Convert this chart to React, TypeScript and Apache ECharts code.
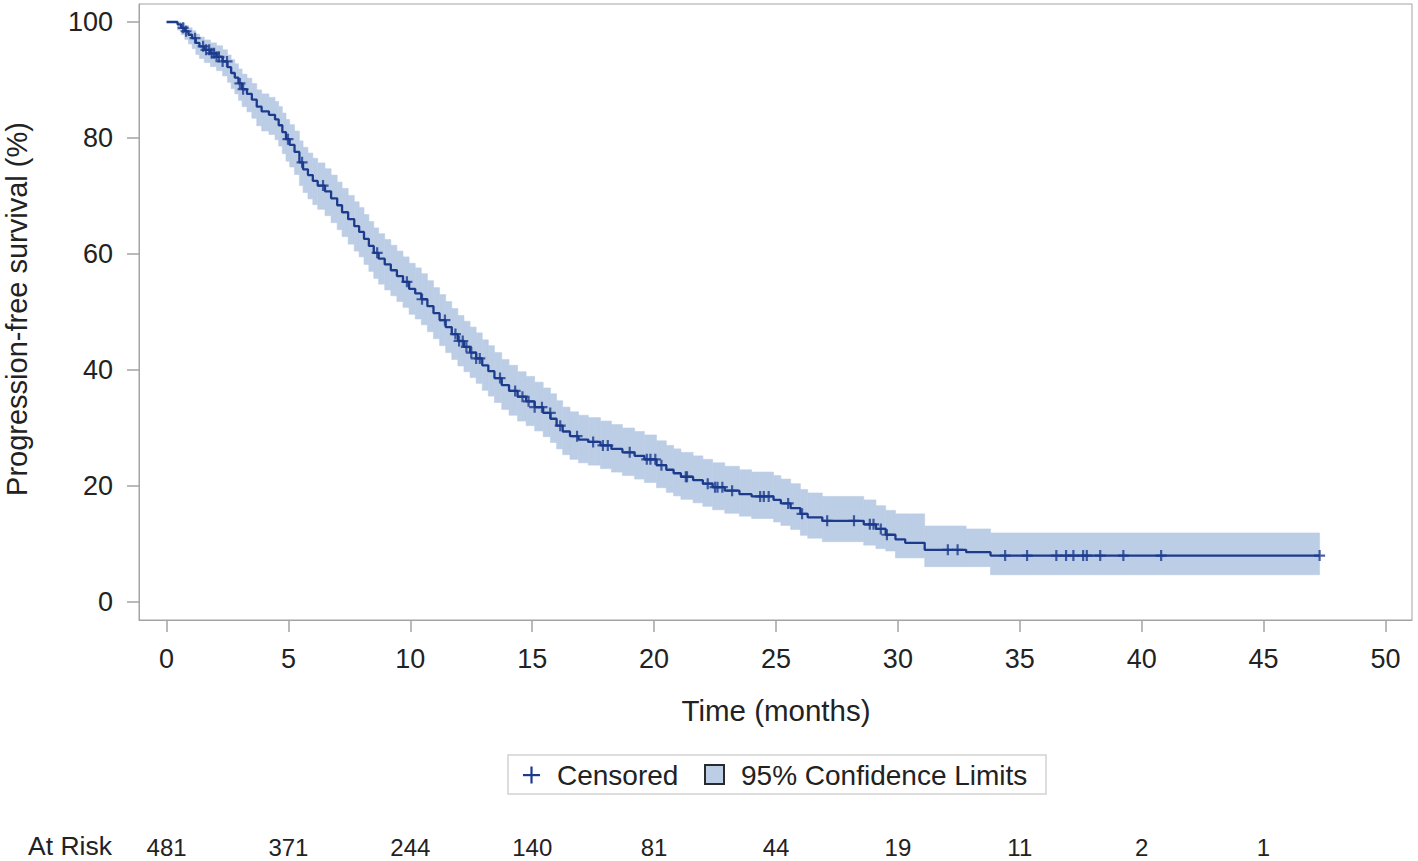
import React, { useEffect, useRef } from "react";
import * as echarts from "echarts";

// Kaplan-Meier step points (time in months, survival %)
const kmTimes = [
  0, 0.45, 0.6, 0.75, 0.9, 1.05, 1.2, 1.35, 1.55, 1.8, 2.05, 2.3, 2.5, 2.65, 2.8, 2.95,
  3.1, 3.3, 3.5, 3.7, 3.9, 4.2, 4.45, 4.6, 4.75, 4.9, 5.05, 5.25, 5.45, 5.6, 5.8, 6.0,
  6.2, 6.5, 6.75, 7.0, 7.2, 7.45, 7.7, 7.9, 8.1, 8.3, 8.5, 8.7, 8.95, 9.2, 9.45, 9.7,
  9.95, 10.2, 10.45, 10.7, 10.95, 11.2, 11.45, 11.7, 11.95, 12.2, 12.45, 12.7, 12.95,
  13.2, 13.45, 13.75, 14.05, 14.4, 14.75, 15.1, 15.45, 15.75, 16.0, 16.25, 16.55, 16.9,
  17.3, 17.8, 18.25, 18.7, 19.2, 19.6, 20.1, 20.5, 20.8, 21.1, 21.6, 22.0, 22.4, 22.9,
  23.5, 24.0, 24.9, 25.2, 25.6, 26.0, 26.3, 26.9, 28.6, 29.1, 29.5, 29.9, 30.3, 31.1,
  32.8, 33.8, 47.3,
];
const kmSurv = [
  100, 99.6, 99.0, 98.4, 97.8, 97.2, 96.4, 95.8, 95.2, 94.6, 94.0, 93.2, 92.2, 91.2, 90.4, 89.4,
  88.4, 87.6, 86.6, 85.4, 84.6, 84.0, 83.2, 82.2, 81.0, 79.8, 78.8, 77.6, 75.8, 74.6, 73.6, 72.6,
  71.8, 70.8, 69.6, 68.4, 67.2, 66.0, 64.8, 63.8, 62.6, 61.4, 60.2, 59.2, 58.2, 57.2, 56.2, 55.2,
  54.0, 53.2, 52.2, 51.0, 49.8, 48.6, 47.4, 46.2, 45.0, 44.0, 43.0, 42.0, 40.8,
  39.8, 38.6, 37.4, 36.4, 35.4, 34.6, 33.6, 32.6, 31.6, 30.4, 29.4, 28.6, 28.0,
  27.6, 27.0, 26.4, 25.8, 25.2, 24.6, 23.6, 22.8, 22.2, 21.6, 21.0, 20.4, 19.8, 19.2,
  18.6, 18.2, 17.6, 17.0, 16.2, 15.2, 14.6, 14.0, 13.4, 12.6, 11.6, 10.8, 10.2, 9.0,
  8.6, 8.0, 8.0,
];
const ciUpper = [
  100, 100, 99.8, 99.4, 99.0, 98.5, 97.9, 97.4, 96.9, 96.4, 95.9, 95.2, 94.3, 93.5, 92.8, 91.9,
  91.0, 90.3, 89.4, 88.3, 87.6, 87.0, 86.3, 85.4, 84.3, 83.2, 82.3, 81.2, 79.5, 78.4, 77.4, 76.5,
  75.7, 74.7, 73.6, 72.4, 71.3, 70.1, 69.0, 68.0, 66.8, 65.6, 64.5, 63.5, 62.5, 61.5, 60.5, 59.5,
  58.4, 57.6, 56.6, 55.4, 54.2, 53.0, 51.8, 50.6, 49.4, 48.4, 47.4, 46.4, 45.2,
  44.2, 43.0, 41.8, 40.8, 39.7, 38.9, 37.9, 36.9, 35.9, 34.7, 33.6, 32.8, 32.2,
  31.8, 31.2, 30.6, 30.0, 29.4, 28.8, 27.8, 27.0, 26.4, 25.8, 25.2, 24.6, 24.0, 23.4,
  22.8, 22.4, 21.8, 21.2, 20.4, 19.4, 18.8, 18.2, 17.6, 16.6, 15.8, 15.2, 15.2, 13.1,
  12.6, 11.9, 11.9,
];
const ciLower = [
  100, 98.6, 97.8, 97.0, 96.2, 95.4, 94.4, 93.7, 93.0, 92.3, 91.6, 90.7, 89.6, 88.5, 87.6, 86.5,
  85.4, 84.5, 83.4, 82.1, 81.2, 80.6, 79.7, 78.6, 77.3, 76.0, 75.0, 73.7, 71.8, 70.6, 69.5, 68.5,
  67.7, 66.6, 65.4, 64.2, 63.0, 61.7, 60.5, 59.5, 58.2, 57.0, 55.8, 54.8, 53.8, 52.8, 51.8, 50.8,
  49.6, 48.8, 47.8, 46.6, 45.4, 44.2, 43.0, 41.8, 40.7, 39.7, 38.7, 37.7, 36.5,
  35.5, 34.4, 33.2, 32.2, 31.2, 30.4, 29.5, 28.5, 27.5, 26.4, 25.4, 24.6, 24.0,
  23.6, 23.0, 22.4, 21.8, 21.2, 20.6, 19.7, 18.9, 18.3, 17.7, 17.1, 16.5, 15.9, 15.3,
  14.8, 14.4, 13.8, 13.2, 12.5, 11.5, 11.0, 10.4, 9.8, 9.2, 8.8, 7.6, 7.6, 6.1,
  6.1, 4.7, 4.7,
];

// Censoring times (months)
const censorTimes = [
  0.68, 0.8, 1.17, 1.5, 1.62, 1.75, 1.85, 1.95, 2.05, 2.15, 2.3, 2.48, 3.01, 3.14, 4.98,
  5.56, 6.42, 8.64, 9.86, 10.48, 11.42, 11.85, 12.0, 12.15, 12.3, 12.5, 12.7, 12.85, 13.68,
  14.3, 14.6, 14.85, 15.1, 15.4, 15.74, 16.15, 16.84, 17.5, 17.9, 18.1, 19.0, 19.7, 19.85,
  20.05, 20.3, 21.3, 21.35, 22.2, 22.5, 22.6, 22.8, 23.2, 24.35, 24.5, 24.7, 25.5, 26.07,
  27.1, 28.2, 28.85, 29.0, 29.3, 29.55, 32.05, 32.45, 34.4, 35.3, 36.5, 36.9, 37.2, 37.6,
  37.75, 38.3, 39.25, 40.8, 47.3,
];

const xTicks = [0, 5, 10, 15, 20, 25, 30, 35, 40, 45, 50];
const yTicks = [0, 20, 40, 60, 80, 100];
const atRiskTimes = [0, 5, 10, 15, 20, 25, 30, 35, 40, 45];
const atRiskCounts = [481, 371, 244, 140, 81, 44, 19, 11, 2, 1];

const LINE = "#1c3b8c";
const BAND = "#bccde6";
const FONT = "'Liberation Sans', Arial, sans-serif";
const TXT = "#222";

function survAt(t: number): number {
  let v = kmSurv[0];
  for (let i = 0; i < kmTimes.length; i++) {
    if (kmTimes[i] <= t) v = kmSurv[i];
  }
  return v;
}

export default function App() {
  const ref = useRef<HTMLDivElement>(null);
  useEffect(() => {
    if (!ref.current) return;
    const chart = echarts.init(ref.current, null, { renderer: "svg" });
    // band: one rectangle per step interval [t_i, t_{i+1}] from lower_i to upper_i
    const bandData = kmTimes.slice(0, -1).map((t, i) => [t, kmTimes[i + 1], ciLower[i], ciUpper[i]]);
    const kmData = kmTimes.map((t, i) => [t, kmSurv[i]]);
    const censData = censorTimes.map((t) => [t, survAt(t)]);
    chart.setOption({
      animation: false,
      grid: {
        left: 139,
        right: 6,
        top: 4,
        bottom: 241,
        show: true,
        borderColor: "#a3a3a3",
        borderWidth: 1,
      },
      xAxis: {
        type: "value",
        min: -1.13,
        max: 51.09,
        splitLine: { show: false },
        axisLine: { show: true, onZero: false, lineStyle: { color: "#a3a3a3", width: 1 } },
        axisTick: { show: true, length: 12, customValues: xTicks, lineStyle: { color: "#a3a3a3", width: 1.5 } },
        axisLabel: {
          customValues: xTicks,
          margin: 25,
          fontSize: 27,
          fontFamily: FONT,
          color: TXT,
        },
      },
      yAxis: {
        type: "value",
        min: -3.1,
        max: 103.1,
        splitLine: { show: false },
        axisLine: { show: true, onZero: false, lineStyle: { color: "#a3a3a3", width: 1 } },
        axisTick: { show: true, length: 12, customValues: yTicks, lineStyle: { color: "#a3a3a3", width: 1.5 } },
        axisLabel: {
          customValues: yTicks,
          margin: 26,
          fontSize: 27,
          fontFamily: FONT,
          color: TXT,
        },
      },
      series: [
        {
          type: "custom",
          data: bandData,
          encode: { x: [0, 1], y: [2, 3] },
          silent: true,
          z: 1,
          renderItem: (params: any, api: any) => {
            const p1 = api.coord([api.value(0), api.value(3)]);
            const p2 = api.coord([api.value(1), api.value(2)]);
            return {
              type: "rect",
              shape: { x: p1[0], y: p1[1], width: p2[0] - p1[0], height: p2[1] - p1[1] },
              style: { fill: BAND, stroke: BAND, lineWidth: 0.6 },
            };
          },
        },
        {
          type: "line",
          data: kmData,
          step: "end",
          symbol: "none",
          lineStyle: { color: LINE, width: 2.3 },
          z: 3,
        },
        {
          type: "scatter",
          data: censData,
          symbol: "path://M4,0H6V4H10V6H6V10H4V6H0V4H4Z",
          symbolSize: 11,
          itemStyle: { color: LINE },
          z: 4,
        },
      ],
    });

    const riskTexts = atRiskTimes.map((t, i) => {
      const px = chart.convertToPixel({ xAxisIndex: 0 }, t) as number;
      return {
        type: "text",
        x: px,
        y: 847,
        style: {
          text: String(atRiskCounts[i]),
          fontSize: 24,
          fontFamily: FONT,
          fill: TXT,
          align: "center",
          verticalAlign: "middle",
        },
      };
    });

    chart.setOption({
      graphic: [
        {
          type: "text",
          x: 17,
          y: 309,
          rotation: Math.PI / 2,
          style: {
            text: "Progression-free survival (%)",
            fontSize: 29,
            fontFamily: FONT,
            fill: TXT,
            align: "center",
            verticalAlign: "middle",
          },
        },
        {
          type: "text",
          x: 776,
          y: 710,
          style: {
            text: "Time (months)",
            fontSize: 29.5,
            fontFamily: FONT,
            fill: TXT,
            align: "center",
            verticalAlign: "middle",
          },
        },
        {
          type: "rect",
          shape: { x: 508, y: 755, width: 538, height: 39 },
          style: { fill: "#fff", stroke: "#d2d2d2", lineWidth: 1.5 },
        },
        {
          type: "rect",
          shape: { x: 523, y: 774, width: 17, height: 2.2 },
          style: { fill: LINE },
        },
        {
          type: "rect",
          shape: { x: 530.4, y: 766.5, width: 2.2, height: 17 },
          style: { fill: LINE },
        },
        {
          type: "text",
          x: 557,
          y: 775,
          style: {
            text: "Censored",
            fontSize: 28,
            fontFamily: FONT,
            fill: TXT,
            align: "left",
            verticalAlign: "middle",
          },
        },
        {
          type: "rect",
          shape: { x: 705, y: 765, width: 19, height: 19 },
          style: { fill: BAND, stroke: "#2a2a2a", lineWidth: 2 },
        },
        {
          type: "text",
          x: 741,
          y: 775,
          style: {
            text: "95% Confidence Limits",
            fontSize: 28,
            fontFamily: FONT,
            fill: TXT,
            align: "left",
            verticalAlign: "middle",
          },
        },
        {
          type: "text",
          x: 28,
          y: 846,
          style: {
            text: "At Risk",
            fontSize: 26.5,
            fontFamily: FONT,
            fill: TXT,
            align: "left",
            verticalAlign: "middle",
          },
        },
        ...riskTexts,
      ],
    });
    return () => chart.dispose();
  }, []);
  return (
    <div
      ref={ref}
      style={{ position: "fixed", left: 0, top: 0, width: 1418, height: 861, background: "#fff" }}
    />
  );
}
